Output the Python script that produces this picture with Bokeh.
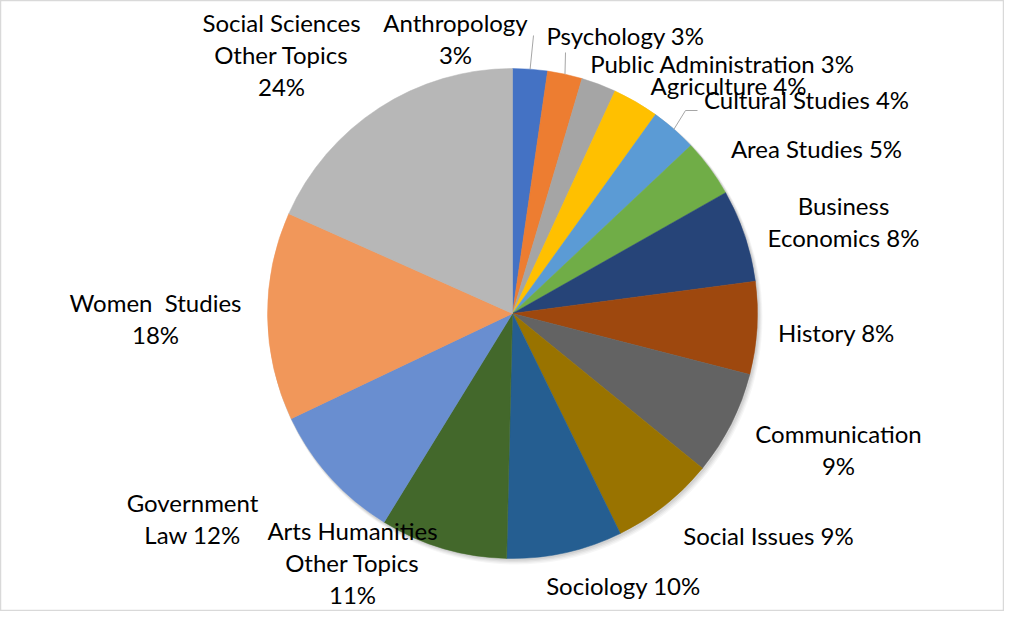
import math
from bokeh.plotting import figure
from bokeh.models import Range1d
from bokeh.core.properties import value
from bokeh.embed import file_html
from bokeh.resources import INLINE

# ---------------- data ----------------
CATEGORIES = [
    "Anthropology", "Psychology", "Public Administration", "Agriculture",
    "Cultural Studies", "Area Studies", "Business\nEconomics", "History",
    "Communication", "Social Issues", "Sociology",
    "Arts Humanities\nOther Topics", "Government\nLaw", "Women\u00a0 Studies",
    "Social Sciences\nOther Topics",
]
VALUES = [3, 3, 3, 4, 4, 5, 8, 8, 9, 9, 10, 11, 12, 18, 24]
COLORS = [
    "#4472C4", "#ED7D31", "#A5A5A5", "#FFC000", "#5B9BD5", "#70AD47",
    "#264478", "#9E480E", "#636363", "#997300", "#255E91", "#43682B",
    "#698ED0", "#F1975A", "#B7B7B7",
]

# ---------------- layout (reference pixel coordinates, y down) ----------------
W, H = 1004, 611
PIE_X, PIE_Y, PIE_R = 512, 313, 245
FONT = "Lato"
FONT_SIZE = "24px"
LINE_H = 32
# whether the percentage goes on its own line
PCT_NEWLINE = [True, False, False, False, False, False, False, False,
               True, False, False, True, False, True, True]
# label centre x and first-line centre y
LABEL_POS = [
    (455, 22), (625, 35), (722, 63), (728, 85), (806, 99), (816, 148),
    (843, 205), (836, 332), (838, 433), (768, 535), (623, 585),
    (352, 530), (192, 502), (155, 302), (281, 22),
]
# leader lines: index -> list of end points (after rim point)
LEADERS = {0: [(533, 35)], 1: [(565, 52)], 4: [(685, 110), (697, 110)]}


def Y(y):
    return H - y


p = figure(width=W, height=H, output_backend="svg", toolbar_location=None,
           x_range=Range1d(0, W), y_range=Range1d(0, H), min_border=0)
p.xaxis.visible = False
p.yaxis.visible = False
p.grid.visible = False
p.outline_line_color = "#D9D9D9"
p.outline_line_width = 1.5
p.background_fill_color = "white"
p.border_fill_color = "white"

# soft shadow
for k, a in [(5, 0.035), (4, 0.04), (3, 0.05), (2, 0.06)]:
    p.circle(x=[PIE_X + k * 0.6], y=[Y(PIE_Y + k * 0.8)], radius=PIE_R + k * 0.4,
             fill_color="black", fill_alpha=a, line_color=None)

total = sum(VALUES)
starts, ends, mids = [], [], []
acc = 0.0
for v in VALUES:
    a0 = acc / total * 360.0
    acc += v
    a1 = acc / total * 360.0
    starts.append(math.radians(90 - a0))
    ends.append(math.radians(90 - a1))
    mids.append((a0 + a1) / 2)

p.wedge(x=PIE_X, y=Y(PIE_Y), radius=PIE_R, start_angle=starts, end_angle=ends,
        direction="clock", fill_color=COLORS, line_color=COLORS, line_width=0.5)

# leader lines
for i, pts in LEADERS.items():
    m = math.radians(mids[i])
    rx = PIE_X + PIE_R * math.sin(m)
    ry = PIE_Y - PIE_R * math.cos(m)
    xs = [rx] + [q[0] for q in pts]
    ys = [Y(ry)] + [Y(q[1]) for q in pts]
    p.line(xs, ys, line_color="#A6A6A6", line_width=1)

# labels
tx, ty, tt = [], [], []
for i, (cat, v) in enumerate(zip(CATEGORIES, VALUES)):
    txt = cat + ("\n" if PCT_NEWLINE[i] else " ") + f"{v}%"
    lx, ly = LABEL_POS[i]
    for j, line in enumerate(txt.split("\n")):
        tx.append(lx)
        ty.append(Y(ly + j * LINE_H))
        tt.append(line)

p.text(x=tx, y=ty, text=tt, text_font=value(FONT), text_font_size=FONT_SIZE,
       text_align="center", text_baseline="middle", text_color="#000000")

open("out.html", "w").write(file_html(p, INLINE))
